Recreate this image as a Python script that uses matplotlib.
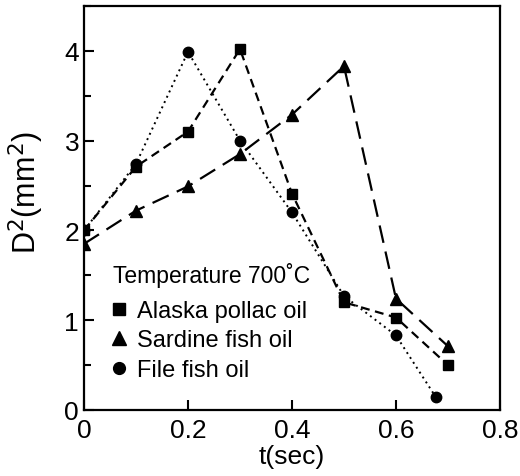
import numpy as np
import matplotlib.pyplot as plt
from matplotlib.lines import Line2D
from matplotlib.ticker import MultipleLocator

plt.rcParams['font.family'] = ['Liberation Sans', 'DejaVu Sans']

# ============================================================
# Data
# ============================================================
t_alaska = [0.0, 0.1, 0.2, 0.3, 0.4, 0.5, 0.6, 0.7]
d2_alaska = [2.0, 2.71, 3.1, 4.02, 2.41, 1.2, 1.03, 0.5]

t_sardine = [0.0, 0.1, 0.2, 0.3, 0.4, 0.5, 0.6, 0.7]
d2_sardine = [1.85, 2.22, 2.49, 2.85, 3.29, 3.83, 1.24, 0.71]

t_file = [0.0, 0.1, 0.2, 0.3, 0.4, 0.5, 0.6, 0.677]
d2_file = [2.0, 2.74, 3.99, 3.0, 2.2, 1.27, 0.83, 0.14]

labels = ['Alaska pollac oil', 'Sardine fish oil', 'File fish oil']
legend_title = 'Temperature 700\u02daC'

# ============================================================
# Plot
# ============================================================
fig = plt.figure(figsize=(5.2, 4.77), dpi=100)
ax = fig.add_axes([0.1615, 0.1384, 0.80, 0.847])

ax.plot(t_alaska, d2_alaska, color='black', lw=1.6, dashes=(4, 2.5),
        marker='s', ms=7, mfc='black', mec='black')
ax.plot(t_sardine, d2_sardine, color='black', lw=1.6, dashes=(8, 4),
        marker='^', ms=8, mfc='black', mec='black')
ax.plot(t_file, d2_file, color='black', lw=1.4, dashes=(1, 2),
        marker='o', ms=7.5, mfc='black', mec='black')

ax.set_xlim(0, 0.8)
ax.set_ylim(0, 4.5)
ax.yaxis.set_major_locator(MultipleLocator(1))
ax.yaxis.set_minor_locator(MultipleLocator(0.5))
ax.set_xticks([0, 0.2, 0.4, 0.6, 0.8])
ax.set_xticklabels(['0', '0.2', '0.4', '0.6', '0.8'])
ax.tick_params(which='both', direction='in', labelsize=19, width=1.5,
               top=False, right=False)
ax.tick_params(which='major', length=7)
ax.tick_params(which='minor', length=5)
ax.tick_params(axis='x', pad=6)
for s in ax.spines.values():
    s.set_linewidth(1.6)

ax.set_xlabel('t(sec)', fontsize=19, labelpad=1)
ax.set_ylabel('D$^2$(mm$^2$)', fontsize=22)
ax.yaxis.set_label_coords(-0.092, 0.54)

handles = [Line2D([], [], ls='none', marker='s', ms=8.5, color='black'),
           Line2D([], [], ls='none', marker='^', ms=9.5, color='black'),
           Line2D([], [], ls='none', marker='o', ms=8.5, color='black')]
leg = ax.legend(handles, labels, title=legend_title, loc='lower left',
                bbox_to_anchor=(0.07, 0.072), frameon=False, fontsize=17,
                title_fontsize=16.5, handlelength=0.5, handletextpad=0.5,
                labelspacing=0.32, borderpad=0, borderaxespad=0)
leg._legend_box.align = 'left'
leg._legend_box.sep = 9

plt.savefig('out.png', dpi=100)
